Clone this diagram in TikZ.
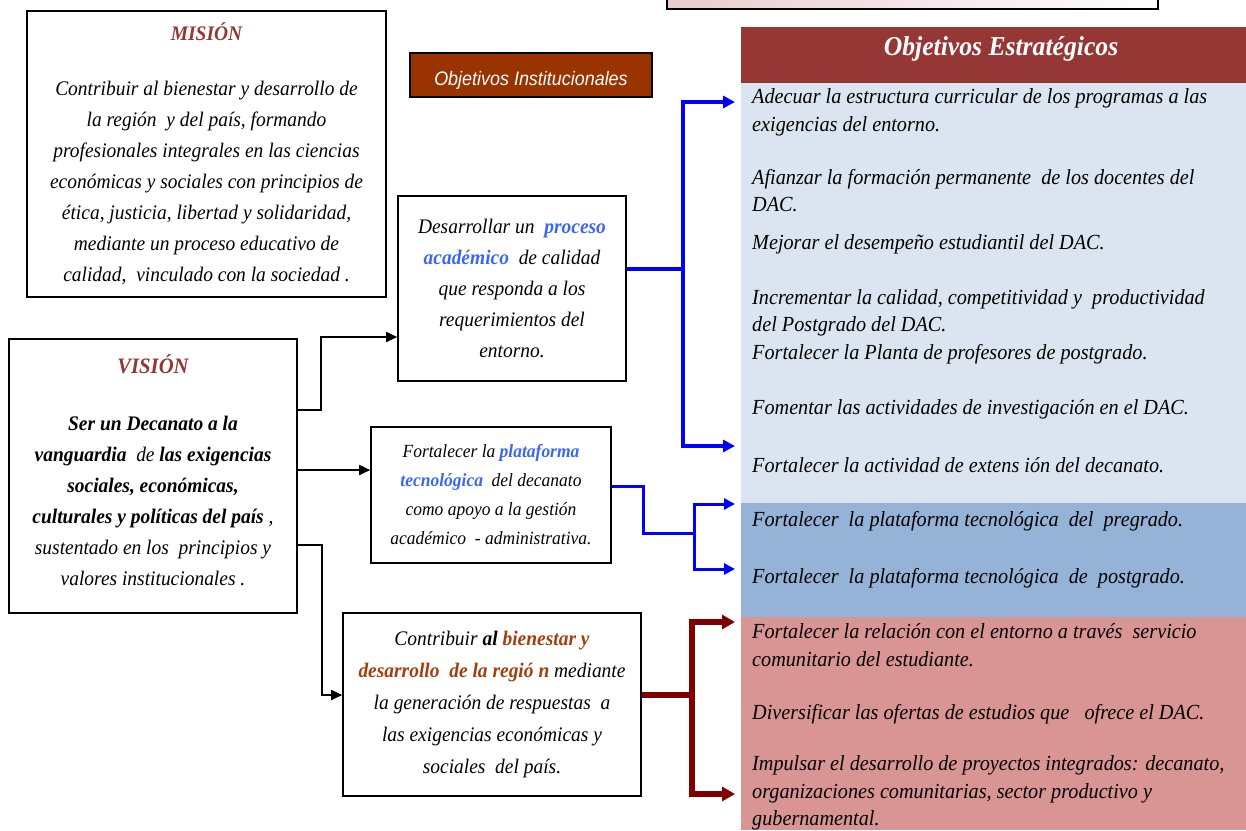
\documentclass[tikz,border=0pt]{standalone}
\usepackage{fontspec}
\setmainfont{Liberation Serif}[FakeStretch=0.94]
\newfontfamily\narrowsans{Liberation Sans}[FakeStretch=0.92]
\usetikzlibrary{arrows.meta,positioning}
\definecolor{titlered}{HTML}{943634}
\definecolor{headred}{HTML}{953735}
\definecolor{instbrown}{HTML}{993300}
\definecolor{keyblue}{HTML}{3A66F5}
\definecolor{keybrown}{HTML}{A33F0C}
\definecolor{panelA}{HTML}{DBE5F1}
\definecolor{panelB}{HTML}{95B3D7}
\definecolor{panelC}{HTML}{D99594}
\definecolor{darkred}{HTML}{800000}
\definecolor{topcol}{HTML}{E9CDD1}

\begin{document}
\begin{tikzpicture}[x=1pt,y=-1pt,
  box/.style={draw,line width=1.6pt,align=center,inner sep=0pt},
  body/.style={align=center,inner sep=0pt,font=\fontsize{20.7}{31}\selectfont\itshape},
  item/.style={anchor=west,align=left,inner sep=0pt,font=\fontsize{21.5}{27.5}\selectfont\itshape},
  blk/.style={line width=1.8pt,-{Triangle[length=11pt,width=10pt]}},
  blu/.style={line width=3.6pt,blue,-{Triangle[length=12pt,width=12pt]}},
  bluthin/.style={line width=3pt,blue,-{Triangle[length=11pt,width=11pt]}},
  dred/.style={line width=5.5pt,darkred,-{Triangle[length=13pt,width=14pt]}}]
\useasboundingbox (0,0) rectangle (1246,830);

% panels on the right
\shade[left color=topcol,right color=white,draw=black,line width=1.6pt] (667,-5) rectangle (1158,9);
\fill[headred] (741,27) rectangle (1246,83);
\fill[panelA] (741,83) rectangle (1246,503);
\fill[panelB] (741,503) rectangle (1246,617);
\fill[panelC] (741,617) rectangle (1246,830);
\node[text=white,font=\fontsize{27.3}{30}\selectfont\bfseries\itshape] (estrat) at (1001,49) {Objetivos Estratégicos};

\node[item] (o1) at (752,112.5) {Adecuar la estructura curricular de los programas a las\\exigencias del entorno.};
\node[item] (o2) at (752,190.5) {Afianzar la formación permanente \ de los docentes del\\DAC.};
\node[item] (o3) at (752,244) {Mejorar el desempeño estudiantil del DAC.};
\node[item] (o4) at (752,313) {Incrementar la calidad, competitividad y \ productividad\\del Postgrado del DAC.};
\node[item] (o5) at (752,354) {Fortalecer la Planta de profesores de postgrado.};
\node[item] (o6) at (752,409) {Fomentar las actividades de investigación en el DAC.};
\node[item] (o7) at (752,465) {Fortalecer la actividad de extens ión del decanato.};
\node[item] (o8) at (752,521) {Fortalecer \ la plataforma tecnológica \ del \ pregrado.};
\node[item] (o9) at (752,578) {Fortalecer \ la plataforma tecnológica \ de \ postgrado.};
\node[item] (o10) at (752,645) {Fortalecer la relación con el entorno a través \ servicio\\comunitario del estudiante.};
\node[item] (o11) at (752,714) {Diversificar las ofertas de estudios que \ \ ofrece el DAC.};
\node[item] (o12) at (752,793) {Impulsar el desarrollo de proyectos integrados: decanato,\\organizaciones comunitarias, sector productivo y\\gubernamental.};

% boxes on the left
\node[box,fill=instbrown,minimum width=242,minimum height=44,text=white,text height=21pt,text depth=0pt,font=\fontsize{19.5}{20}\selectfont\narrowsans\itshape] (inst) at (531,75) {Objetivos Institucionales};

\node[box,body,minimum width=359,minimum height=286] (mision) at (206.5,154)
  {\textcolor{titlered}{\bfseries MISIÓN}\\[24pt]
   Contribuir al bienestar y desarrollo de\\la región \ y del país, formando\\profesionales integrales en las ciencias\\económicas y sociales con principios de\\ética, justicia, libertad y solidaridad,\\mediante un proceso educativo de\\calidad, \ vinculado con la sociedad .};

\node[box,minimum width=288,minimum height=274] (vision) at (153,476) {};
\node[body] (visiontxt) at ([yshift=6pt]vision.center)
  {\textcolor{titlered}{\bfseries\fontsize{22}{31}\selectfont VISIÓN}\\[26pt]
   \bfseries Ser un Decanato a la\\
   \bfseries vanguardia \ \mdseries de \bfseries las exigencias\\
   \bfseries sociales, económicas,\\
   \bfseries culturales y políticas del país \mdseries ,\\
   sustentado en los \ principios y\\
   valores institucionales .};

\node[box,body,minimum width=228,minimum height=185] (proceso) at (512,288.5)
  {Desarrollar un \ \textcolor{keyblue}{\bfseries proceso}\\
   \textcolor{keyblue}{\bfseries académico} \ de calidad\\
   que responda a los\\requerimientos del\\entorno.};

\node[box,font=\fontsize{18.6}{29}\selectfont\itshape,minimum width=240,minimum height=136] (plataforma) at (491,495)
  {Fortalecer la \textcolor{keyblue}{\bfseries plataforma}\\
   \textcolor{keyblue}{\bfseries tecnológica} \ del decanato\\
   como apoyo a la gestión\\
   académico \ - administrativa.};

\node[box,body,font=\fontsize{20.7}{32}\selectfont\itshape,minimum width=298,minimum height=183] (region) at (492,704.5)
  {Contribuir \textbf{al} \textcolor{keybrown}{\bfseries bienestar y}\\
   \textcolor{keybrown}{\bfseries desarrollo \ de la regió n} mediante\\
   la generación de respuestas \ a\\
   las exigencias económicas y\\
   sociales \ del país.};

% end points at the panels
\coordinate (t1) at (735,102);
\coordinate (t7) at (735,446);
\coordinate (t8) at (735,504);
\coordinate (t9) at (735,569);
\coordinate (t10) at (735,622);
\coordinate (t12) at (735,794);
\coordinate (b2) at (694,533);
\coordinate (b3) at (692,695);

% black links from the vision
\draw[blk] ([yshift=66pt]vision.east) -- ++(23,0) |- ([yshift=-48.5pt]proceso.west);
\draw[blk] ([yshift=6pt]vision.east) -- ([yshift=6pt]vision.east -| plataforma.west);
\draw[blk] ([yshift=-69pt]vision.east) -- ++(24,0) |- ([yshift=9.5pt]region.west);

% coloured links to the objectives
\draw[blu] ([yshift=19.5pt]proceso.east) -- ++(56,0) |- (t1);
\draw[blu] ([yshift=19.5pt]proceso.east) -- ++(56,0) |- (t7);
\draw[line width=3pt,blue] ([yshift=9pt]plataforma.east) -- ++(32,0) |- (b2);
\draw[bluthin] (b2) |- (t8);
\draw[bluthin] (b2) |- (t9);
\draw[line width=5.5pt,darkred] ([yshift=9.5pt]region.east) -- (b3);
\draw[dred] (b3) |- (t10);
\draw[dred] (b3) |- (t12);
\end{tikzpicture}
\end{document}
